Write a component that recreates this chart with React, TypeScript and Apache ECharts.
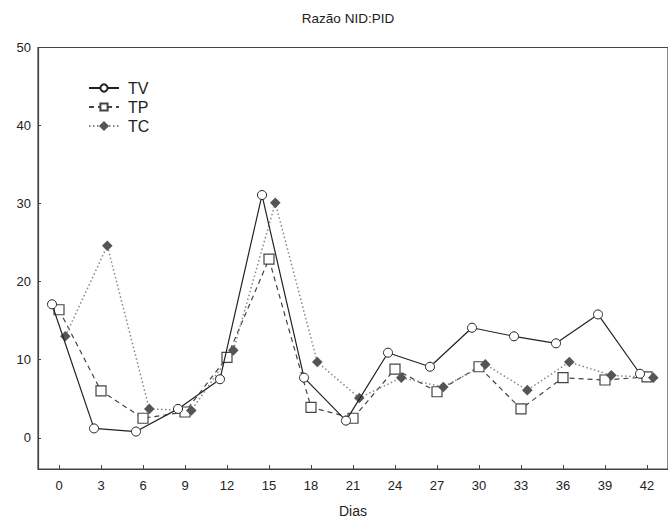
import React, { useEffect, useRef } from "react";
import * as echarts from "echarts";

const titleText = "Razão NID:PID";
const xName = "Dias";
const days = [0, 3, 6, 9, 12, 15, 18, 21, 24, 27, 30, 33, 36, 39, 42];
const xTicks = [0, 3, 6, 9, 12, 15, 18, 21, 24, 27, 30, 33, 36, 39, 42];
const yTicks = [0, 10, 20, 30, 40, 50];
const tvValues = [17.1, 1.2, 0.8, 3.7, 7.5, 31.1, 7.7, 2.2, 10.9, 9.1, 14.1, 13.0, 12.1, 15.8, 8.2];
const tpValues = [16.4, 6.0, 2.5, 3.3, 10.3, 22.9, 3.9, 2.5, 8.8, 5.9, 9.1, 3.7, 7.7, 7.4, 7.8];
const tcValues = [13.0, 24.6, 3.7, 3.5, 11.2, 30.1, 9.7, 5.1, 7.7, 6.5, 9.4, 6.1, 9.7, 8.0, 7.7];

const FONT = "Liberation Sans, Arial, sans-serif";

function pairs(vals: number[], dodge: number) {
  return vals.map((v, i) => [days[i] + dodge, v]);
}

export default function App() {
  const ref = useRef<HTMLDivElement>(null);
  useEffect(() => {
    document.body.style.margin = "0";
    const chart = echarts.init(ref.current!, null, { renderer: "svg" });
    chart.setOption({
      animation: false,
      backgroundColor: "#fff",
      textStyle: { fontFamily: FONT },
      graphic: [
        {
          type: "text",
          x: 348,
          y: 18,
          style: {
            text: titleText,
            fontSize: 13.5,
            fontFamily: FONT,
            fill: "#222",
            textAlign: "center",
            textVerticalAlign: "middle",
          },
        },
      ],
      legend: {
        orient: "vertical",
        left: 88,
        top: 80,
        padding: 0,
        itemWidth: 30,
        itemHeight: 9,
        itemGap: 3,
        textStyle: { fontSize: 16, color: "#222", fontFamily: FONT, padding: [0, 0, 0, 4] },
        data: ["TV", "TP", "TC"],
      },
      grid: {
        left: 38,
        top: 47.5,
        right: -8,
        bottom: 52,
        show: true,
        borderColor: "#444",
        borderWidth: 1.2,
        containLabel: false,
      },
      xAxis: {
        type: "value",
        min: -1.5,
        max: 43.5,
        name: xName,
        nameLocation: "middle",
        nameGap: 35,
        nameTextStyle: { fontSize: 14, color: "#222", fontFamily: FONT },
        axisLine: { show: true, onZero: false, lineStyle: { color: "#444", width: 1.2 } },
        axisTick: { show: true, inside: true, length: 4, customValues: xTicks, lineStyle: { color: "#444" } },
        axisLabel: { customValues: xTicks, fontSize: 13, color: "#222", margin: 10, fontFamily: FONT },
        splitLine: { show: false },
      },
      yAxis: {
        type: "value",
        min: -4,
        max: 50,
        axisLine: { show: true, onZero: false, lineStyle: { color: "#444", width: 1.2 } },
        axisTick: { show: true, inside: true, length: 3, customValues: yTicks, lineStyle: { color: "#444" } },
        axisLabel: { customValues: yTicks, fontSize: 13, color: "#222", margin: 7, fontFamily: FONT },
        splitLine: { show: false },
      },
      series: [
        {
          name: "TV",
          type: "line",
          data: pairs(tvValues, -0.5),
          symbol: "circle",
          symbolSize: 9,
          z: 3,
          lineStyle: { color: "#222", width: 1.2, type: "solid" },
          itemStyle: { color: "#fff", borderColor: "#222", borderWidth: 1 },
        },
        {
          name: "TP",
          type: "line",
          data: pairs(tpValues, 0),
          symbol: "rect",
          symbolSize: 10,
          z: 2,
          lineStyle: { color: "#444", width: 1.2, type: [5, 4] },
          itemStyle: { color: "#fff", borderColor: "#444", borderWidth: 1.2 },
        },
        {
          name: "TC",
          type: "line",
          data: pairs(tcValues, 0.45),
          symbol: "rect",
          symbolRotate: 45,
          symbolSize: 7.5,
          z: 2,
          lineStyle: { color: "#888", width: 1.5, type: [1.5, 2.5] },
          itemStyle: { color: "#555", borderColor: "#555", borderWidth: 0 },
        },
      ],
    });
    return () => chart.dispose();
  }, []);
  return <div ref={ref} style={{ position: "fixed", left: 0, top: 0, width: 668, height: 523 }} />;
}
